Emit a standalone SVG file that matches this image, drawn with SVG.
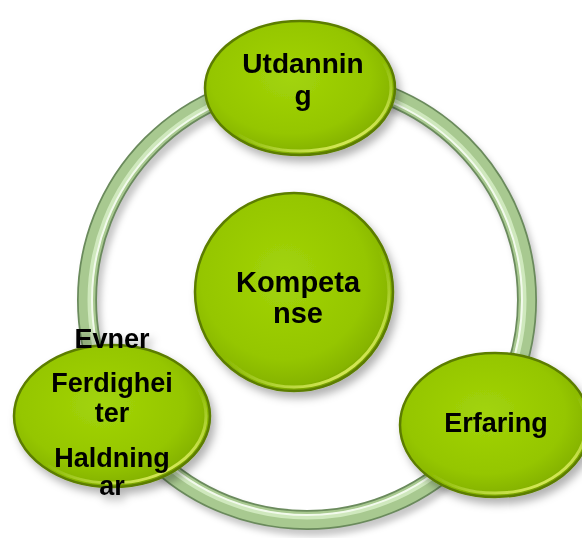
<svg xmlns="http://www.w3.org/2000/svg" width="582" height="538" viewBox="0 0 582 538">
<defs>
<radialGradient id="gFill" cx="0.45" cy="0.42" r="0.6">
<stop offset="0" stop-color="#a2d40a"/>
<stop offset="0.7" stop-color="#95c600"/>
<stop offset="0.92" stop-color="#86b400"/>
<stop offset="1" stop-color="#739a00"/>
</radialGradient>
<linearGradient id="gRim" x1="0.2" y1="0.1" x2="0.8" y2="0.95">
<stop offset="0" stop-color="#c8e860" stop-opacity="0"/>
<stop offset="0.55" stop-color="#c8e860" stop-opacity="0"/>
<stop offset="1" stop-color="#e0f060" stop-opacity="0.95"/>
</linearGradient>
<filter id="shadow" x="-20%" y="-20%" width="150%" height="150%">
<feDropShadow dx="4" dy="6" stdDeviation="4" flood-color="#000" flood-opacity="0.3"/>
</filter>
<filter id="blur" x="-10%" y="-10%" width="120%" height="120%">
<feGaussianBlur stdDeviation="3"/>
</filter>
<style>
.body{fill:url(#gFill);stroke:#5c7d00;stroke-width:2.5}
.rim{fill:none;stroke:url(#gRim);stroke-width:3}
.lbl{font-family:"Liberation Sans",Arial,sans-serif;font-weight:bold;fill:#000;text-anchor:middle}
</style>
</defs>
<rect width="582" height="538" fill="#fff"/>
<g id="connectors">
<circle cx="311" cy="306" r="220" fill="none" stroke="#000" stroke-opacity="0.22" stroke-width="20" filter="url(#blur)"/>
<circle cx="307" cy="300" r="220" fill="none" stroke="#6a8a5c" stroke-width="20"/>
<circle cx="307" cy="300" r="220" fill="none" stroke="#a8c990" stroke-width="16.5"/>
<circle cx="307" cy="300" r="217" fill="none" stroke="#cfe8bd" stroke-width="5"/>
<circle cx="307" cy="300" r="215" fill="none" stroke="#f2faec" stroke-width="2"/>
</g>
<g id="node-utdanning" filter="url(#shadow)">
<ellipse class="body" cx="300" cy="88" rx="95" ry="67"/>
<ellipse class="rim" cx="300" cy="88" rx="91" ry="63"/>
<text class="lbl" x="303" y="73" font-size="28">Utdannin</text>
<text class="lbl" x="303" y="105" font-size="28">g</text>
</g>
<g id="node-kompetanse" filter="url(#shadow)">
<circle class="body" cx="294" cy="292" r="99"/>
<circle class="rim" cx="294" cy="292" r="95"/>
<text class="lbl" x="298" y="292" font-size="29">Kompeta</text>
<text class="lbl" x="298" y="323" font-size="29">nse</text>
</g>
<g id="node-erfaring" filter="url(#shadow)">
<ellipse class="body" cx="495" cy="425" rx="95" ry="72"/>
<ellipse class="rim" cx="495" cy="425" rx="91" ry="68"/>
<text class="lbl" x="496" y="432" font-size="27">Erfaring</text>
</g>
<g id="node-evner" filter="url(#shadow)">
<ellipse class="body" cx="112" cy="416" rx="98" ry="71"/>
<ellipse class="rim" cx="112" cy="416" rx="94" ry="67"/>
<text class="lbl" x="112" y="348" font-size="27">Evner</text>
<text class="lbl" x="112" y="392" font-size="27">Ferdighei</text>
<text class="lbl" x="112" y="422" font-size="27">ter</text>
<text class="lbl" x="112" y="467" font-size="27">Haldning</text>
<text class="lbl" x="112" y="495" font-size="27">ar</text>
</g>
</svg>
